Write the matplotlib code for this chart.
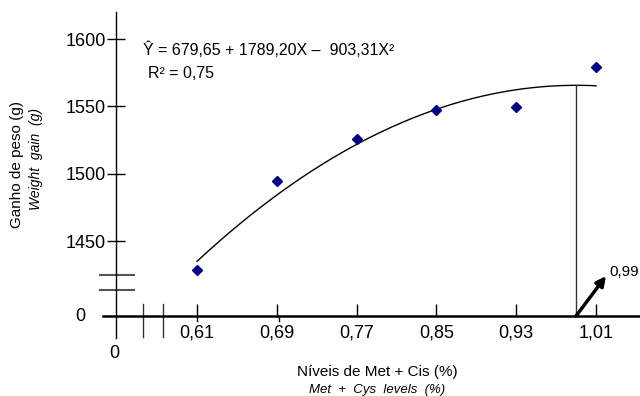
import numpy as np
import matplotlib.pyplot as plt

plt.rcParams['font.family'] = ['Liberation Sans', 'DejaVu Sans']

# dados
niveis = [0.61, 0.69, 0.77, 0.85, 0.93, 1.01]
ganho = [1428.5, 1494.5, 1525.5, 1547.5, 1549.5, 1579.0]
tick_labels = ['0,61', '0,69', '0,77', '0,85', '0,93', '1,01']
yticks = [1450, 1500, 1550, 1600]
coef = [679.65, 1789.20, -903.31]   # Y = a + bX + cX^2
otimo = 0.99

# pixel -> dados (figura 640x396, eixo ocupa tudo)
PXX = 997.5        # px por unidade de X
PXY = 1.347        # px por grama
XMIN = 0.61 - 197 / PXX
YTOP = 1600 + 39 / PXY


def px(x):
    return XMIN + x / PXX


def py(y):
    return YTOP - y / PXY


fig = plt.figure(figsize=(6.4, 3.96), dpi=100)
ax = fig.add_axes([0, 0, 1, 1])
ax.set_xlim(px(0), px(640))
ax.set_ylim(py(396), py(0))

ax.spines['top'].set_visible(False)
ax.spines['right'].set_visible(False)
ax.spines['left'].set_position(('data', px(116)))
ax.spines['left'].set_bounds(py(338), py(12))
ax.spines['bottom'].set_position(('data', py(316)))
ax.spines['bottom'].set_bounds(px(103), px(640))
ax.spines['bottom'].set_linewidth(1.8)
ax.spines['left'].set_linewidth(1.0)

ax.set_yticks(yticks)
ax.set_yticklabels([str(v) for v in yticks], fontsize=13)
ax.tick_params(axis='y', direction='inout', length=13, width=1, pad=1)
ax.set_xticks(niveis)
ax.set_xticklabels(tick_labels, fontsize=13)
ax.tick_params(axis='x', direction='in', length=9, width=1, pad=6)

# curva ajustada
xs = np.linspace(niveis[0], niveis[-1], 200)
ys = coef[0] + coef[1] * xs + coef[2] * xs ** 2
ax.plot(xs, ys, color='black', lw=1.0)

ax.plot(niveis, ganho, 'D', color='#000080', ms=5, zorder=3)

# linha do otimo
ymax = coef[0] + coef[1] * otimo + coef[2] * otimo ** 2
ax.plot([otimo, otimo], [py(316), ymax], color='#333333', lw=1.0)
ax.annotate('', xy=(px(606), py(276)), xytext=(otimo, py(316)),
            arrowprops=dict(arrowstyle='-|>', color='black', lw=2.5,
                            mutation_scale=14, shrinkA=0, shrinkB=0))
ax.text(px(609), py(272), '0,99', fontsize=11, va='center', ha='left')

# quebra dos eixos
for yb in (275, 290):
    ax.plot([px(100), px(134)], [py(yb), py(yb)], color='#555555', lw=1.5)
for xb in (143, 163):
    ax.plot([px(xb), px(xb)], [py(304), py(337)], color='#333333', lw=1.0)
for xb in (197, 279):
    ax.plot([px(xb), px(xb)], [py(316), py(321)], color='black', lw=1.0)
ax.text(px(80), py(317), '0', fontsize=13, ha='center', va='center')
ax.text(px(114), py(353), '0', fontsize=13, ha='center', va='center')

# equacao
ax.text(px(143), py(50), 'Ŷ = 679,65 + 1789,20X –  903,31X²', fontsize=11.5,
        ha='left', va='center')
ax.text(px(148), py(74), 'R² = 0,75', fontsize=11.5, ha='left', va='center')

# rotulos
ax.text(px(17), py(164), 'Ganho de peso (g)', fontsize=11, rotation=90,
        ha='center', va='center')
ax.text(px(36), py(159), 'Weight  gain  (g)', fontsize=10, style='italic',
        rotation=90, ha='center', va='center')
ax.text(px(377), py(372), 'Níveis de Met + Cis (%)', fontsize=11,
        ha='center', va='center')
ax.text(px(377), py(390), 'Met  +  Cys  levels  (%)', fontsize=9.5,
        style='italic', ha='center', va='center')

fig.savefig('out.png', dpi=100)
